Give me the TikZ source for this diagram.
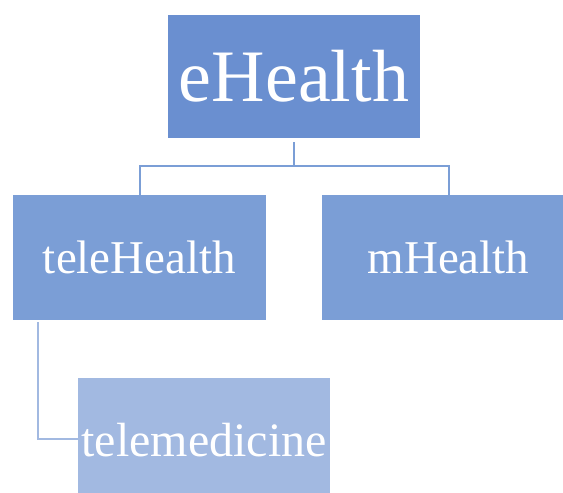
\documentclass[tikz,border=0pt]{standalone}
\usepackage{fontspec}
\setmainfont{Liberation Serif}
\usepackage{tikz}
\usetikzlibrary{positioning}

\definecolor{topblue}{HTML}{6A8FD0}
\definecolor{midblue}{HTML}{7B9ED6}
\definecolor{lowblue}{HTML}{A2B9E1}

\begin{document}
\begin{tikzpicture}[x=1pt,y=1pt,
  box/.style={rectangle,inner sep=0pt,text=white,minimum width=253pt,minimum height=124pt},
  top box/.style={box,fill=topblue,minimum width=252pt,minimum height=123pt,font=\fontsize{74}{80}\selectfont},
  mid box/.style={box,fill=midblue,minimum height=125pt,font=\fontsize{47}{52}\selectfont},
  low box/.style={box,fill=lowblue,minimum width=252pt,minimum height=125pt,font=\fontsize{48}{52}\selectfont},
  conn/.style={draw=midblue,line width=2pt},
  subconn/.style={draw=lowblue,line width=2pt}]

 \useasboundingbox (0,0) rectangle (563,-493);
 \clip (0,0) rectangle (563,-493);

 \node[top box] (ehealth) at (294,-76.5) {eHealth};
 \node[mid box] (telehealth) at (139.5,-257.5) {teleHealth};
 \node[mid box] (mhealth) at (448.5,-257.5) {mHealth};
 \node[low box] (telemed) at (204,-440.5) {telemedicine};

 % tree lines
 \draw[conn] ([yshift=-4pt]ehealth.south) -- ++(0,-24) -| (telehealth.north);
 \draw[conn] ([yshift=-28pt]ehealth.south) -| (mhealth.north);
 \draw[subconn] ([xshift=25pt,yshift=-2pt]telehealth.south west) |- ([yshift=2pt]telemed.west);

\end{tikzpicture}
\end{document}
